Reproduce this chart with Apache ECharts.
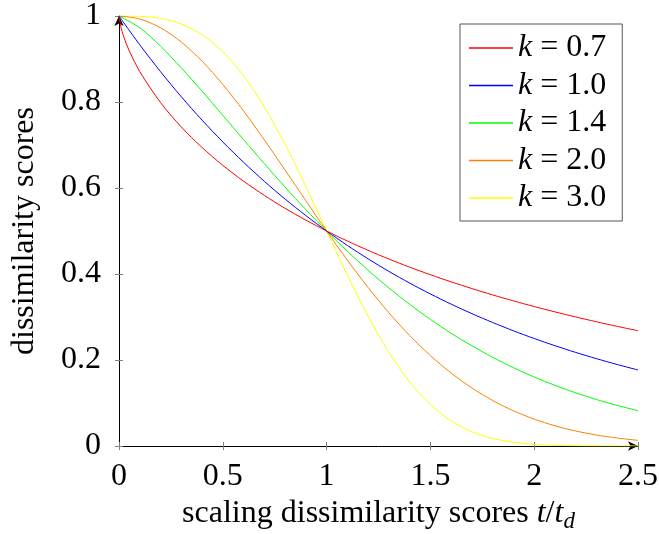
<!DOCTYPE html>
<html>
<head>
<meta charset="utf-8">
<script src="https://cdn.jsdelivr.net/npm/echarts@6/dist/echarts.min.js"></script>
<style>html,body{margin:0;padding:0;background:#fff;}#c{width:659px;height:534px;}</style>
</head>
<body>
<div id="c"></div>
<script>
// sample positions t/t_d
var xs = [0, 0.1, 0.2, 0.3, 0.4, 0.5, 0.6, 0.7, 0.8, 0.9, 1.0, 1.1, 1.2, 1.3, 1.4, 1.5, 1.6, 1.7, 1.8, 1.9, 2.0, 2.1, 2.2, 2.3, 2.4, 2.5];
// extra fine positions near 0 for the steep k=0.7 curve
var xs07 = [0, 0.01, 0.02, 0.03, 0.05, 0.1, 0.2, 0.3, 0.4, 0.5, 0.6, 0.7, 0.8, 0.9, 1.0, 1.1, 1.2, 1.3, 1.4, 1.5, 1.6, 1.7, 1.8, 1.9, 2.0, 2.1, 2.2, 2.3, 2.4, 2.5];
var k07 = [1, 0.9728, 0.9562, 0.9422, 0.9184, 0.8708, 0.7988, 0.7420, 0.6942, 0.6527, 0.6158, 0.5828, 0.5527, 0.5253, 0.5, 0.4767, 0.4550, 0.4348, 0.4159, 0.3983, 0.3817, 0.3661, 0.3513, 0.3375, 0.3243, 0.3119, 0.3001, 0.2889, 0.2782, 0.2681];
var k10 = [1, 0.9330, 0.8706, 0.8123, 0.7579, 0.7071, 0.6598, 0.6156, 0.5743, 0.5359, 0.5, 0.4665, 0.4353, 0.4061, 0.3789, 0.3536, 0.3299, 0.3078, 0.2872, 0.2679, 0.25, 0.2333, 0.2176, 0.2031, 0.1895, 0.1768];
var k14 = [1, 0.9728, 0.9298, 0.8794, 0.8252, 0.7690, 0.7125, 0.6566, 0.6022, 0.5499, 0.5, 0.4529, 0.4087, 0.3676, 0.3295, 0.2944, 0.2622, 0.2330, 0.2063, 0.1822, 0.1605, 0.1411, 0.1236, 0.1081, 0.0943, 0.0821];
var k20 = [1, 0.9931, 0.9727, 0.9395, 0.8950, 0.8409, 0.7792, 0.7120, 0.6417, 0.5704, 0.5, 0.4323, 0.3686, 0.3099, 0.2570, 0.2102, 0.1696, 0.1349, 0.1058, 0.0819, 0.0625, 0.0470, 0.0349, 0.0256, 0.0185, 0.0131];
var k30 = [1, 0.9993, 0.9945, 0.9815, 0.9566, 0.9170, 0.8610, 0.7884, 0.7013, 0.6033, 0.5, 0.3975, 0.3018, 0.2181, 0.1493, 0.0964, 0.0585, 0.0332, 0.0176, 0.0086, 0.0039, 0.0016, 0.0006, 0.0002, 0.0001, 0.0000];
var names = ['k = 0.7', 'k = 1.0', 'k = 1.4', 'k = 2.0', 'k = 3.0'];
var colors = ['#ff0000', '#0000ff', '#00ff00', '#ff8000', '#ffff00'];
var xTicks = {min: 0, max: 2.5, interval: 0.5};
var yTicks = {min: 0, max: 1, interval: 0.2};

function pairs(x, y) { return x.map(function (v, i) { return [v, y[i]]; }); }
var seriesData = [pairs(xs07, k07), pairs(xs, k10), pairs(xs, k14), pairs(xs, k20), pairs(xs, k30)];

var FONT = '"Liberation Serif", "DejaVu Serif", serif';
var FS = 32;
var chart = echarts.init(document.getElementById('c'));
var tickStyle = {color: '#808080', width: 1};
chart.setOption({
  animation: false,
  backgroundColor: '#fff',
  grid: {left: 119, right: 21, top: 16, bottom: 88, containLabel: false, outerBoundsMode: 'none'},
  xAxis: [{
    type: 'value', min: xTicks.min, max: xTicks.max, interval: xTicks.interval,
    splitLine: {show: false},
    axisLine: {show: true, lineStyle: {color: '#000', width: 1}, symbol: ['none', 'arrow'], symbolSize: [7, 10]},
    axisTick: {show: true, inside: false, length: 4, lineStyle: tickStyle},
    axisLabel: {fontFamily: FONT, fontSize: FS, color: '#000', margin: 15},
    name: '{n|scaling dissimilarity scores }{i|t}{n|/}{i|t}{s|d}',
    nameLocation: 'middle', nameGap: 32,
    nameTextStyle: {
      rich: {
        n: {fontFamily: FONT, fontSize: FS, color: '#000', verticalAlign: 'top', lineHeight: 40},
        i: {fontFamily: FONT, fontSize: FS, fontStyle: 'italic', color: '#000', verticalAlign: 'top', lineHeight: 40},
        s: {fontFamily: FONT, fontSize: 23, fontStyle: 'italic', color: '#000', verticalAlign: 'top', lineHeight: 40, padding: [13, 0, 0, 0]}
      }
    }
  }, {
    type: 'value', min: xTicks.min, max: xTicks.max, interval: xTicks.interval, position: 'bottom',
    splitLine: {show: false}, axisLine: {show: false}, axisLabel: {show: false},
    axisTick: {show: true, inside: true, length: 4, lineStyle: tickStyle}
  }],
  yAxis: [{
    type: 'value', min: yTicks.min, max: yTicks.max, interval: yTicks.interval,
    splitLine: {show: false},
    axisLine: {show: true, lineStyle: {color: '#000', width: 1}, symbol: ['none', 'arrow'], symbolSize: [7, 10]},
    axisTick: {show: true, inside: false, length: 4, lineStyle: tickStyle},
    axisLabel: {fontFamily: FONT, fontSize: FS, color: '#000', margin: 18},
    name: 'dissimilarity scores', nameLocation: 'middle', nameGap: 78, nameRotate: 90,
    nameTextStyle: {fontFamily: FONT, fontSize: FS, color: '#000'}
  }, {
    type: 'value', min: yTicks.min, max: yTicks.max, interval: yTicks.interval, position: 'left',
    splitLine: {show: false}, axisLine: {show: false}, axisLabel: {show: false},
    axisTick: {show: true, inside: true, length: 4, lineStyle: tickStyle}
  }],
  legend: {
    orient: 'vertical', left: 460, top: 24,
    padding: [6, 16, 5, 9], itemGap: 1.5,
    itemWidth: 44, itemHeight: 1.5, icon: 'rect',
    borderColor: '#555', borderWidth: 1,
    data: names,
    formatter: function (n) { return '{i|k}{n|' + n.slice(1) + '}'; },
    textStyle: {
      lineHeight: 36,
      rich: {
        i: {fontFamily: FONT, fontSize: FS, fontStyle: 'italic', color: '#000', lineHeight: 36},
        n: {fontFamily: FONT, fontSize: FS, color: '#000', lineHeight: 36}
      }
    }
  },
  series: names.map(function (n, i) {
    return {
      name: n, type: 'line', data: seriesData[i],
      xAxisIndex: 0, yAxisIndex: 0,
      showSymbol: false, symbol: 'none',
      smooth: 0.3,
      color: colors[i],
      lineStyle: {color: colors[i], width: 1},
      z: 10 - i
    };
  })
});
</script>
</body>
</html>
